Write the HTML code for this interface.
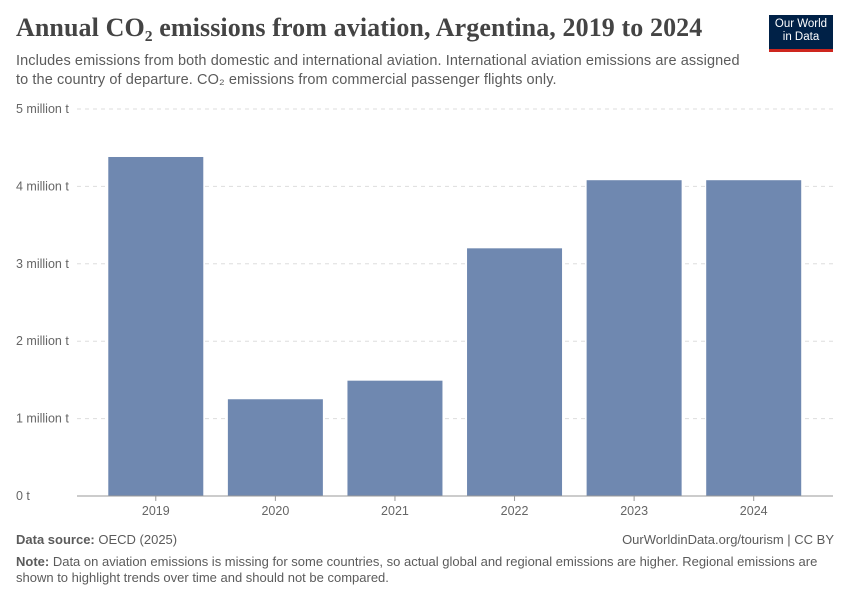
<!DOCTYPE html>
<html><head><meta charset="utf-8"><style>
body{margin:0;width:850px;height:600px;background:#fff;font-family:"Liberation Sans",sans-serif;overflow:hidden;position:relative}
.t{position:absolute;white-space:nowrap}
</style></head><body>
<div class="t" style="left:16px;top:13px;font-family:'Liberation Serif',serif;font-size:26px;font-weight:bold;letter-spacing:0.1px;color:#444">Annual CO₂ emissions from aviation, Argentina, 2019 to 2024</div>
<div class="t" style="left:16px;top:52px;font-size:14.5px;line-height:19px;letter-spacing:0.1px;color:#5b5b5b">Includes emissions from both domestic and international aviation. International aviation emissions are assigned<br>to the country of departure. CO₂ emissions from commercial passenger flights only.</div>
<div style="position:absolute;left:769px;top:15px;width:64px;height:37px;background:#002147;border-bottom:3px solid #ce261e;color:#fff;font-size:11.5px;line-height:13px;text-align:center;padding-top:3px;box-sizing:border-box">Our World<br>in Data</div>
<svg id="c" style="position:absolute;left:0;top:0" width="850" height="600"></svg>
<div class="t" style="left:16px;top:532px;font-size:13px;color:#5b5b5b"><b>Data source:</b> OECD (2025)</div>
<div class="t" style="right:16px;top:532px;font-size:13px;color:#5b5b5b">OurWorldinData.org/tourism | CC BY</div>
<div class="t" style="left:16px;top:554px;font-size:13px;line-height:15.5px;color:#5b5b5b"><b>Note:</b> Data on aviation emissions is missing for some countries, so actual global and regional emissions are higher. Regional emissions are<br>shown to highlight trends over time and should not be compared.</div>
<script>
const categories=["2019","2020","2021","2022","2023","2024"];
const values=[4.38,1.25,1.49,3.20,4.08,4.08];
const yTicks=[0,1,2,3,4,5];
const yTickLabels=["0 t","1 million t","2 million t","3 million t","4 million t","5 million t"];
const svg=document.getElementById('c');
const NS='http://www.w3.org/2000/svg';
const x0=77,x1=833,y0=496,y5=109,bandStart=96,bandEnd=813.5;
const y=v=>y0-(v/5)*(y0-y5);
const step=(bandEnd-bandStart)/categories.length, bw=95;
const xc=i=>bandStart+step*(i+0.5);
function mk(t,a){const e=document.createElementNS(NS,t);for(const k in a)e.setAttribute(k,a[k]);svg.appendChild(e);return e;}
yTicks.forEach((v,i)=>{
 if(v>0){const l=mk('line',{x1:x0,x2:x1,y1:y(v),y2:y(v),stroke:'#ddd','stroke-dasharray':'4,4'});
 
 }
 const t=mk('text',{x:16,y:y(v)+4,'font-size':12.5,fill:'#666','font-family':'Liberation Sans'});
 t.textContent=yTickLabels[i];
 
 
});
categories.forEach((c,i)=>{
 const r=mk('rect',{x:xc(i)-bw/2,y:y(values[i]),width:bw,height:y0-y(values[i]),fill:'#6f88b0'});
 
 
 const tk=mk('line',{x1:xc(i),x2:xc(i),y1:y0,y2:y0+5,stroke:'#999'});
 
 
 const t=mk('text',{x:xc(i),y:y0+19,'font-size':12.5,fill:'#666','text-anchor':'middle','font-family':'Liberation Sans'});
 t.textContent=c;
 
 
});
const ax=mk('line',{x1:x0,x2:x1,y1:y0,y2:y0,stroke:'#999'});


</script>
</body></html>
